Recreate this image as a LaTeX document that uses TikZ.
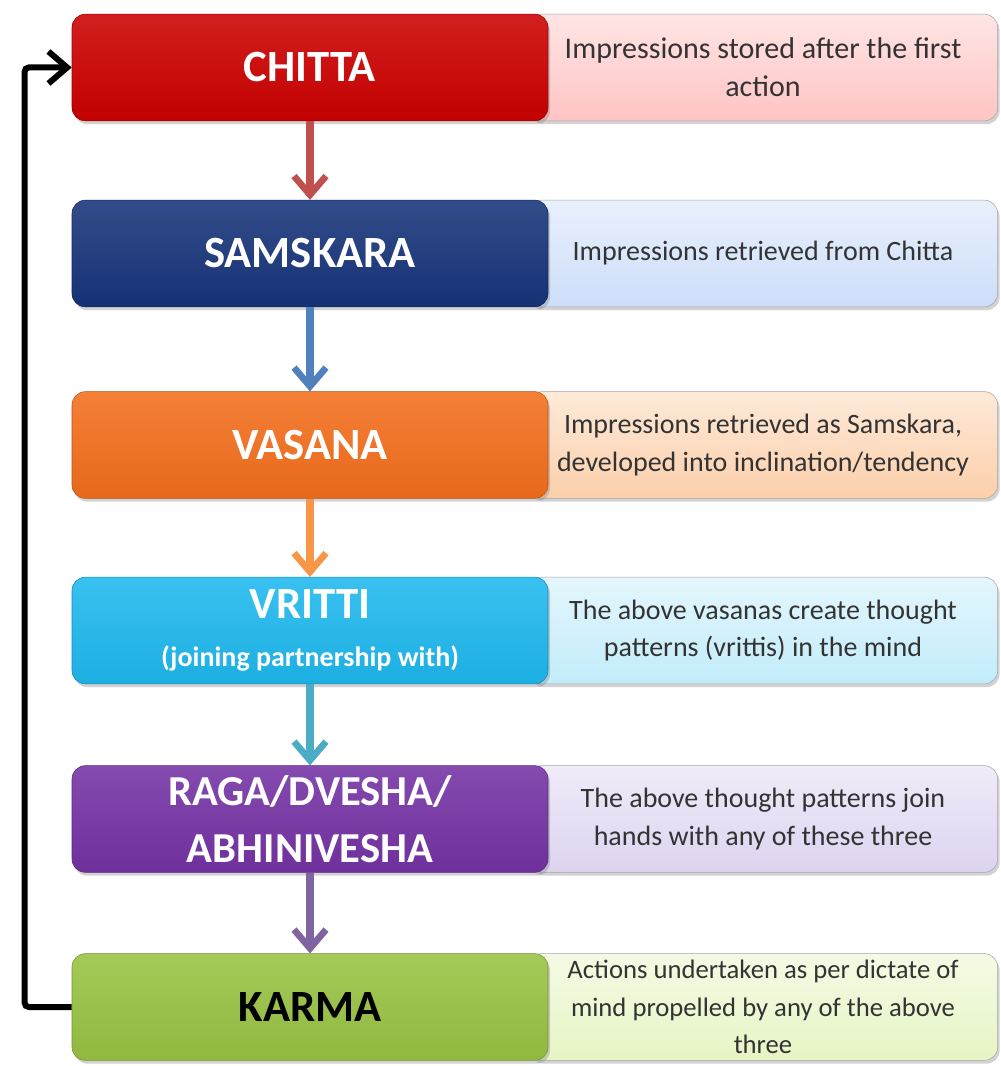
\documentclass[tikz,border=0pt]{standalone}
\usepackage{fontspec}
\setmainfont{Carlito}
\usetikzlibrary{arrows.meta,shadows}

\definecolor{chittared}{HTML}{CC0000}
\definecolor{samskarablue}{HTML}{17347A}
\definecolor{vasanaorange}{HTML}{F36E1C}
\definecolor{vritticyan}{HTML}{1EB8EE}
\definecolor{ragapurple}{HTML}{7432A4}
\definecolor{karmagreen}{HTML}{98C242}
\definecolor{chittanotefill}{HTML}{FFC4C4}
\definecolor{samskaranotefill}{HTML}{CDDEF9}
\definecolor{vasananotefill}{HTML}{FCCFAA}
\definecolor{vrittinotefill}{HTML}{C2ECFA}
\definecolor{raganotefill}{HTML}{DDD3F0}
\definecolor{karmanotefill}{HTML}{E6F5C4}
\definecolor{arrowred}{HTML}{C0504D}
\definecolor{arrowblue}{HTML}{4F81BD}
\definecolor{arroworange}{HTML}{F79646}
\definecolor{arrowteal}{HTML}{4BACC6}
\definecolor{arrowpurple}{HTML}{8064A2}

\begin{document}
\begin{tikzpicture}[x=0.75pt, y=-0.75pt,
    stepbox/.style={rectangle, rounded corners=10pt, minimum width=357pt, minimum height=80pt,
      draw=#1!75!black, top color=#1!88!white, bottom color=#1!95!black,
      text=white, align=center, font=\fontsize{33.5}{43}\selectfont\bfseries,
      drop shadow={opacity=0.35, shadow xshift=1.5pt, shadow yshift=-2.5pt}},
    notebox/.style={rectangle, rounded corners=10pt, minimum width=352pt, minimum height=80pt,
      draw=black!35, top color=#1!45!white, bottom color=#1,
      text=black!80, align=center, font=\fontsize{21}{28}\selectfont,
      drop shadow={opacity=0.35, shadow xshift=1.5pt, shadow yshift=-2.5pt}},
    flow/.style={draw=#1, line width=6pt, -{Straight Barb[length=14pt, width=24pt, line width=5pt]}},
    loopback/.style={draw=black, line width=4.5pt, rounded corners=3pt,
      -{Straight Barb[length=14pt, width=24pt, line width=4.5pt]}}]
  \useasboundingbox[fill=white] (0,0) rectangle (1000,1066);
  % Descriptions (behind)
  \node[notebox=chittanotefill, font=\fontsize{22.5}{28.5}\selectfont] (chittanote) at (763,67.5) {Impressions stored after the first\\action};
  \node[notebox=samskaranotefill] (samskaranote) at (763,253.5) {Impressions retrieved from Chitta};
  \node[notebox=vasananotefill]   (vasananote)   at (763,445) {Impressions retrieved as Samskara,\\developed into inclination/tendency};
  \node[notebox=vrittinotefill]   (vrittinote)   at (763,630.5) {The above vasanas create thought\\patterns (vrittis) in the mind};
  \node[notebox=raganotefill]     (raganote)     at (763,819) {The above thought patterns join\\hands with any of these three};
  \node[notebox=karmanotefill, font=\fontsize{20}{28}\selectfont] (karmanote) at (763,1007) {Actions undertaken as per dictate of\\mind propelled by any of the above\\three};
  % Steps
  \node[stepbox=chittared]    (chitta)   at (310,67.5) {CHITTA};
  \node[stepbox=samskarablue] (samskara) at (310,253.5) {SAMSKARA};
  \node[stepbox=vasanaorange] (vasana)   at (310,445) {VASANA};
  \node[stepbox=vritticyan]   (vritti)   at (310,630.5) {VRITTI\\[-7pt]{\fontsize{21}{24}\selectfont(joining partnership with)}};
  \node[stepbox=ragapurple, font=\fontsize{32}{43}\selectfont\bfseries] (raga) at (310,819) {RAGA/DVESHA/\\ABHINIVESHA};
  \node[stepbox=karmagreen, text=black] (karma) at (310,1007) {KARMA};
  % Arrows down
  \draw[flow=arrowred]    (chitta)   -- (samskara);
  \draw[flow=arrowblue]   (samskara) -- (vasana);
  \draw[flow=arroworange] (vasana)   -- (vritti);
  \draw[flow=arrowteal]   (vritti)   -- (raga);
  \draw[flow=arrowpurple] (raga)     -- (karma);
  % Back to the start
  \draw[loopback] (karma.west) -- ++(-47,0) |- (chitta.west);
\end{tikzpicture}
\end{document}
